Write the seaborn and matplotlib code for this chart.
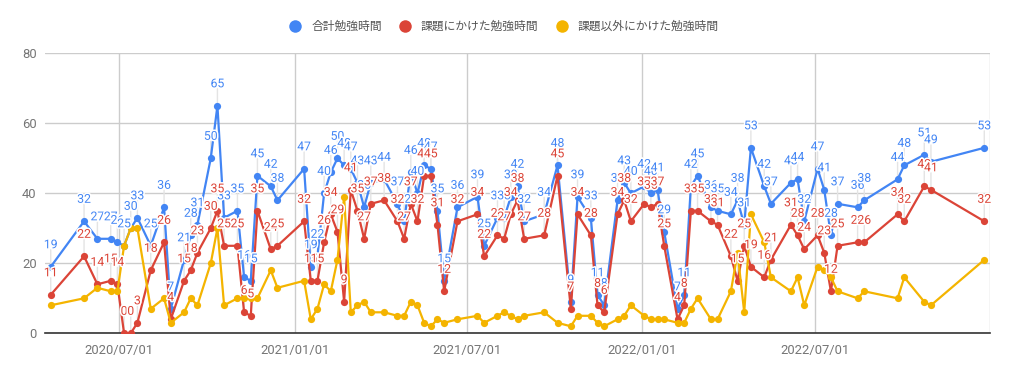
import matplotlib
matplotlib.use("Agg")
import matplotlib.pyplot as plt
from matplotlib.lines import Line2D
import matplotlib.patheffects as pe
import seaborn as sns
import pandas as pd

dates = [
    "2020-04-20", "2020-05-25", "2020-06-08", "2020-06-22", "2020-06-29", "2020-07-06", "2020-07-13", "2020-07-20", "2020-08-03", "2020-08-17",
    "2020-08-24", "2020-09-07", "2020-09-14", "2020-09-21", "2020-10-05", "2020-10-12", "2020-10-19", "2020-11-02", "2020-11-09", "2020-11-16",
    "2020-11-23", "2020-12-07", "2020-12-14", "2021-01-11", "2021-01-18", "2021-01-25", "2021-02-01", "2021-02-08", "2021-02-15", "2021-02-22",
    "2021-03-01", "2021-03-08", "2021-03-15", "2021-03-22", "2021-04-05", "2021-04-19", "2021-04-26", "2021-05-03", "2021-05-10", "2021-05-17",
    "2021-05-24", "2021-05-31", "2021-06-07", "2021-06-21", "2021-07-12", "2021-07-19", "2021-08-02", "2021-08-09", "2021-08-16", "2021-08-23",
    "2021-08-30", "2021-09-20", "2021-10-04", "2021-10-18", "2021-10-25", "2021-11-08", "2021-11-15", "2021-11-22", "2021-12-06", "2021-12-13",
    "2021-12-20", "2022-01-03", "2022-01-10", "2022-01-17", "2022-01-24", "2022-02-07", "2022-02-14", "2022-02-21", "2022-02-28", "2022-03-14",
    "2022-03-21", "2022-04-04", "2022-04-11", "2022-04-18", "2022-04-25", "2022-05-09", "2022-05-16", "2022-06-06", "2022-06-13", "2022-06-20",
    "2022-07-04", "2022-07-11", "2022-07-18", "2022-07-25", "2022-08-15", "2022-08-22", "2022-09-26", "2022-10-03", "2022-10-24", "2022-10-31",
    "2022-12-26",
]

total_hours = [
    19, 32, 27, 27, 26, 25, 30, 33, 25, 36,
    7, 21, 28, 31, 50, 65, 33, 35, 16, 15,
    45, 42, 38, 47, 19, 22, 40, 46, 50, 48,
    47, 43, 36, 43, 44, 37, 32, 46, 40, 48,
    47, 35, 15, 36, 39, 25, 33, 33, 39, 42,
    32, 34, 48, 9, 39, 33, 11, 8, 38, 43,
    40, 42, 40, 41, 29, 7, 11, 42, 45, 36,
    35, 34, 38, 31, 53, 42, 37, 43, 44, 32,
    47, 41, 28, 37, 36, 38, 44, 48, 51, 49,
    53,
]

assignment_hours = [
    11, 22, 14, 15, 14, 0, 0, 3, 18, 26,
    4, 15, 18, 23, 30, 35, 25, 25, 6, 5,
    35, 24, 25, 32, 15, 15, 26, 34, 29, 9,
    41, 35, 27, 37, 38, 32, 27, 37, 32, 45,
    45, 31, 12, 32, 34, 22, 28, 27, 34, 38,
    27, 28, 45, 7, 34, 28, 8, 6, 34, 38,
    32, 37, 36, 37, 25, 4, 8, 35, 35, 32,
    31, 22, 15, 25, 19, 16, 21, 31, 28, 24,
    28, 23, 12, 25, 26, 26, 34, 32, 42, 41,
    32,
]

other_hours = [
    8, 10, 13, 12, 12, 25, 30, 30, 7, 10,
    3, 6, 10, 8, 20, 30, 8, 10, 10, 10,
    10, 18, 13, 15, 4, 7, 14, 12, 21, 39,
    6, 8, 9, 6, 6, 5, 5, 9, 8, 3,
    2, 4, 3, 4, 5, 3, 5, 6, 5, 4,
    5, 6, 3, 2, 5, 5, 3, 2, 4, 5,
    8, 5, 4, 4, 4, 3, 3, 7, 10, 4,
    4, 12, 23, 6, 34, 26, 16, 12, 16, 8,
    19, 18, 16, 12, 10, 12, 10, 16, 9, 8,
    21,
]

series_names = ["合計勉強時間", "課題にかけた勉強時間", "課題以外にかけた勉強時間"]
x_tick_dates = ["2020-07-01", "2021-01-01", "2021-07-01", "2022-01-01", "2022-07-01", "2023-01-01"]
x_tick_labels = ["2020/07/01", "2021/01/01", "2021/07/01", "2022/01/01", "2022/07/01", ""]
y_ticks = [0, 20, 40, 60, 80]

colors = ["#4285F4", "#DB4437", "#F4B400"]

sns.set_style("white")
plt.rcParams["font.family"] = ["Roboto", "Noto Sans CJK JP", "DejaVu Sans"]

x = pd.to_datetime(dates)
series_values = [total_hours, assignment_hours, other_hours]

fig = plt.figure(figsize=(10.09, 3.73), dpi=100)
ax = fig.add_axes([45 / 1009, 1 - 333.3 / 373, (990 - 45) / 1009, (333.3 - 53.3) / 373])

for name, vals, col, z in zip(series_names, series_values, colors, [3, 4, 5]):
    df = pd.DataFrame({"date": x, "value": vals})
    sns.lineplot(data=df, x="date", y="value", ax=ax, color=col, linewidth=1.6,
                 marker="o", markersize=5.2, markeredgewidth=0, zorder=z, label=name,
                 legend=False)

# data labels with light stems (blue and red series)
for vals, col in zip(series_values[:2], colors[:2]):
    for d, v in zip(x, vals):
        ax.annotate("", xy=(d, v), xytext=(0, 17), textcoords="offset pixels",
                    arrowprops=dict(arrowstyle="-", color="#e4e4e4", lw=1.0,
                                    shrinkA=0, shrinkB=0), zorder=1)
halo = [pe.withStroke(linewidth=2.2, foreground="white")]
for vals, col in zip(series_values[:2], colors[:2]):
    for d, v in zip(x, vals):
        ax.annotate(str(v), xy=(d, v), xytext=(0, 18.5), textcoords="offset pixels",
                    ha="center", va="baseline", fontsize=8.8, color=col, zorder=6,
                    family=["Roboto", "DejaVu Sans"], path_effects=halo)

ax.set_ylim(0, 80)
ax.set_xlim(pd.Timestamp("2020-04-14"), pd.Timestamp("2023-01-01"))
ax.set_yticks(y_ticks)
ax.set_yticklabels([str(t) for t in y_ticks])
ax.set_xticks(pd.to_datetime(x_tick_dates))
ax.set_xticklabels(x_tick_labels)
ax.grid(True, color="#cccccc", linewidth=1.0)
ax.set_axisbelow(True)
for s in ["top", "right", "left"]:
    ax.spines[s].set_visible(False)
ax.spines["bottom"].set_color("#333333")
ax.spines["bottom"].set_linewidth(1.2)
ax.spines["bottom"].set_zorder(2)
ax.tick_params(axis="both", length=0, labelsize=9.4, colors="#757575")
ax.tick_params(axis="x", pad=8)
ax.tick_params(axis="y", pad=6)
ax.set_xlabel("")
ax.set_ylabel("")

handles = [Line2D([], [], linestyle="none", marker="o", markersize=9, markeredgewidth=0,
                  color=c) for c in colors]
leg = fig.legend(handles, series_names, loc="center", bbox_to_anchor=(504 / 1009, 1 - 26.5 / 373),
                 ncol=3, frameon=False, fontsize=8.5, handletextpad=0.86, columnspacing=1.45,
                 handlelength=1.0)
for t in leg.get_texts():
    t.set_color("#555555")

fig.savefig("out.png", dpi=100)
